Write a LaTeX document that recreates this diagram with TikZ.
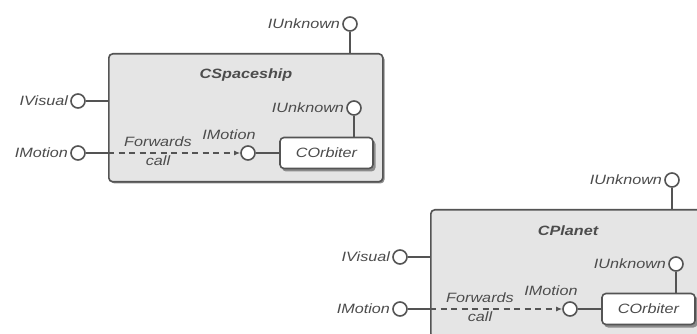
\documentclass[tikz,border=0pt]{standalone}
\usepackage{fontspec}
\setmainfont[FakeStretch=1.2]{Liberation Sans}
\usetikzlibrary{arrows.meta}
\definecolor{linec}{gray}{0.33}
\definecolor{boxfill}{gray}{0.90}
\definecolor{shadowc}{gray}{0.55}
\definecolor{textc}{gray}{0.30}
\tikzset{
  lbl/.style={font=\fontsize{13.5}{15}\selectfont\itshape, text=textc, inner sep=2pt},
  ttl/.style={font=\fontsize{13.5}{15}\selectfont\bfseries\itshape, text=textc, inner sep=0pt},
  lolli/.style={circle, draw=linec, line width=1.6pt, fill=white, minimum size=14pt, inner sep=0pt},
  stem/.style={draw=linec, line width=1.6pt},
  compbox/.style={draw=linec, line width=1.6pt, fill=boxfill, rounded corners=4pt,
    minimum width=274pt, minimum height=128pt, anchor=north west, inner sep=0pt},
  innerbox/.style={draw=linec, line width=1.6pt, fill=white, rounded corners=4pt,
    minimum width=93pt, minimum height=31pt, inner sep=0pt,
    font=\fontsize{13.5}{15}\selectfont\itshape, text=textc},
  fwd/.style={draw=linec, line width=1.6pt, dash pattern=on 6pt off 4.5pt,
    -{Latex[length=6pt,width=5pt]}},
  comp/.pic={
    \fill[shadowc, rounded corners=4pt] (2.5,2.5) rectangle (276.5,130.5);
    \node[compbox] (-box) at (0,0) {};
    \node[ttl] (-title) at (138,22) {#1};
    % top IUnknown
    \node[lolli] (-tu) at (242,-29) {};
    \node[lbl, anchor=east] (-tul) at (-tu.west) {IUnknown};
    \draw[stem] (-tu.south) -- (242,0);
    % IVisual
    \node[lolli] (-iv) at (-30,48) {};
    \node[lbl, anchor=east] (-ivl) at (-iv.west) {IVisual};
    \draw[stem] (-iv.east) -- (0,48);
    % IMotion
    \node[lolli] (-im) at (-30,100) {};
    \node[lbl, anchor=east] (-iml) at (-im.west) {IMotion};
    \coordinate (-edge) at (0,100);
    \draw[stem] (-im.east) -- (-edge);
    % inner
    \fill[shadowc, rounded corners=4pt] (174,87) rectangle (267.5,118.5);
    \node[innerbox] (-orb) at (218.5,100) {COrbiter};
    \node[lolli] (-in) at (140,100) {};
    \node[lbl] (-inl) at (121,82) {IMotion};
    \draw[stem] (-in.east) -- (-orb.west);
    \draw[fwd] (-edge) -- (-in.west);
    \node[lbl] (-fw) at (50,89) {Forwards};
    \node[lbl] (-call) at (50,108) {call};
    \node[lolli] (-iu) at (246,55) {};
    \node[lbl, anchor=east] (-iul) at (-iu.west) {IUnknown};
    \draw[stem] (-iu.south) -- (246,84.5);
  }
}
\begin{document}
\begin{tikzpicture}[x=1pt,y=-1pt]
  \useasboundingbox (0,0) rectangle (697,334);
  \fill[white] (0,0) rectangle (697,334);
  \clip (0,0) rectangle (697,334);
  \pic (sp) at (108,53) {comp=CSpaceship};
  \pic (pl) at (430,209) {comp=CPlanet};
\end{tikzpicture}
\end{document}
